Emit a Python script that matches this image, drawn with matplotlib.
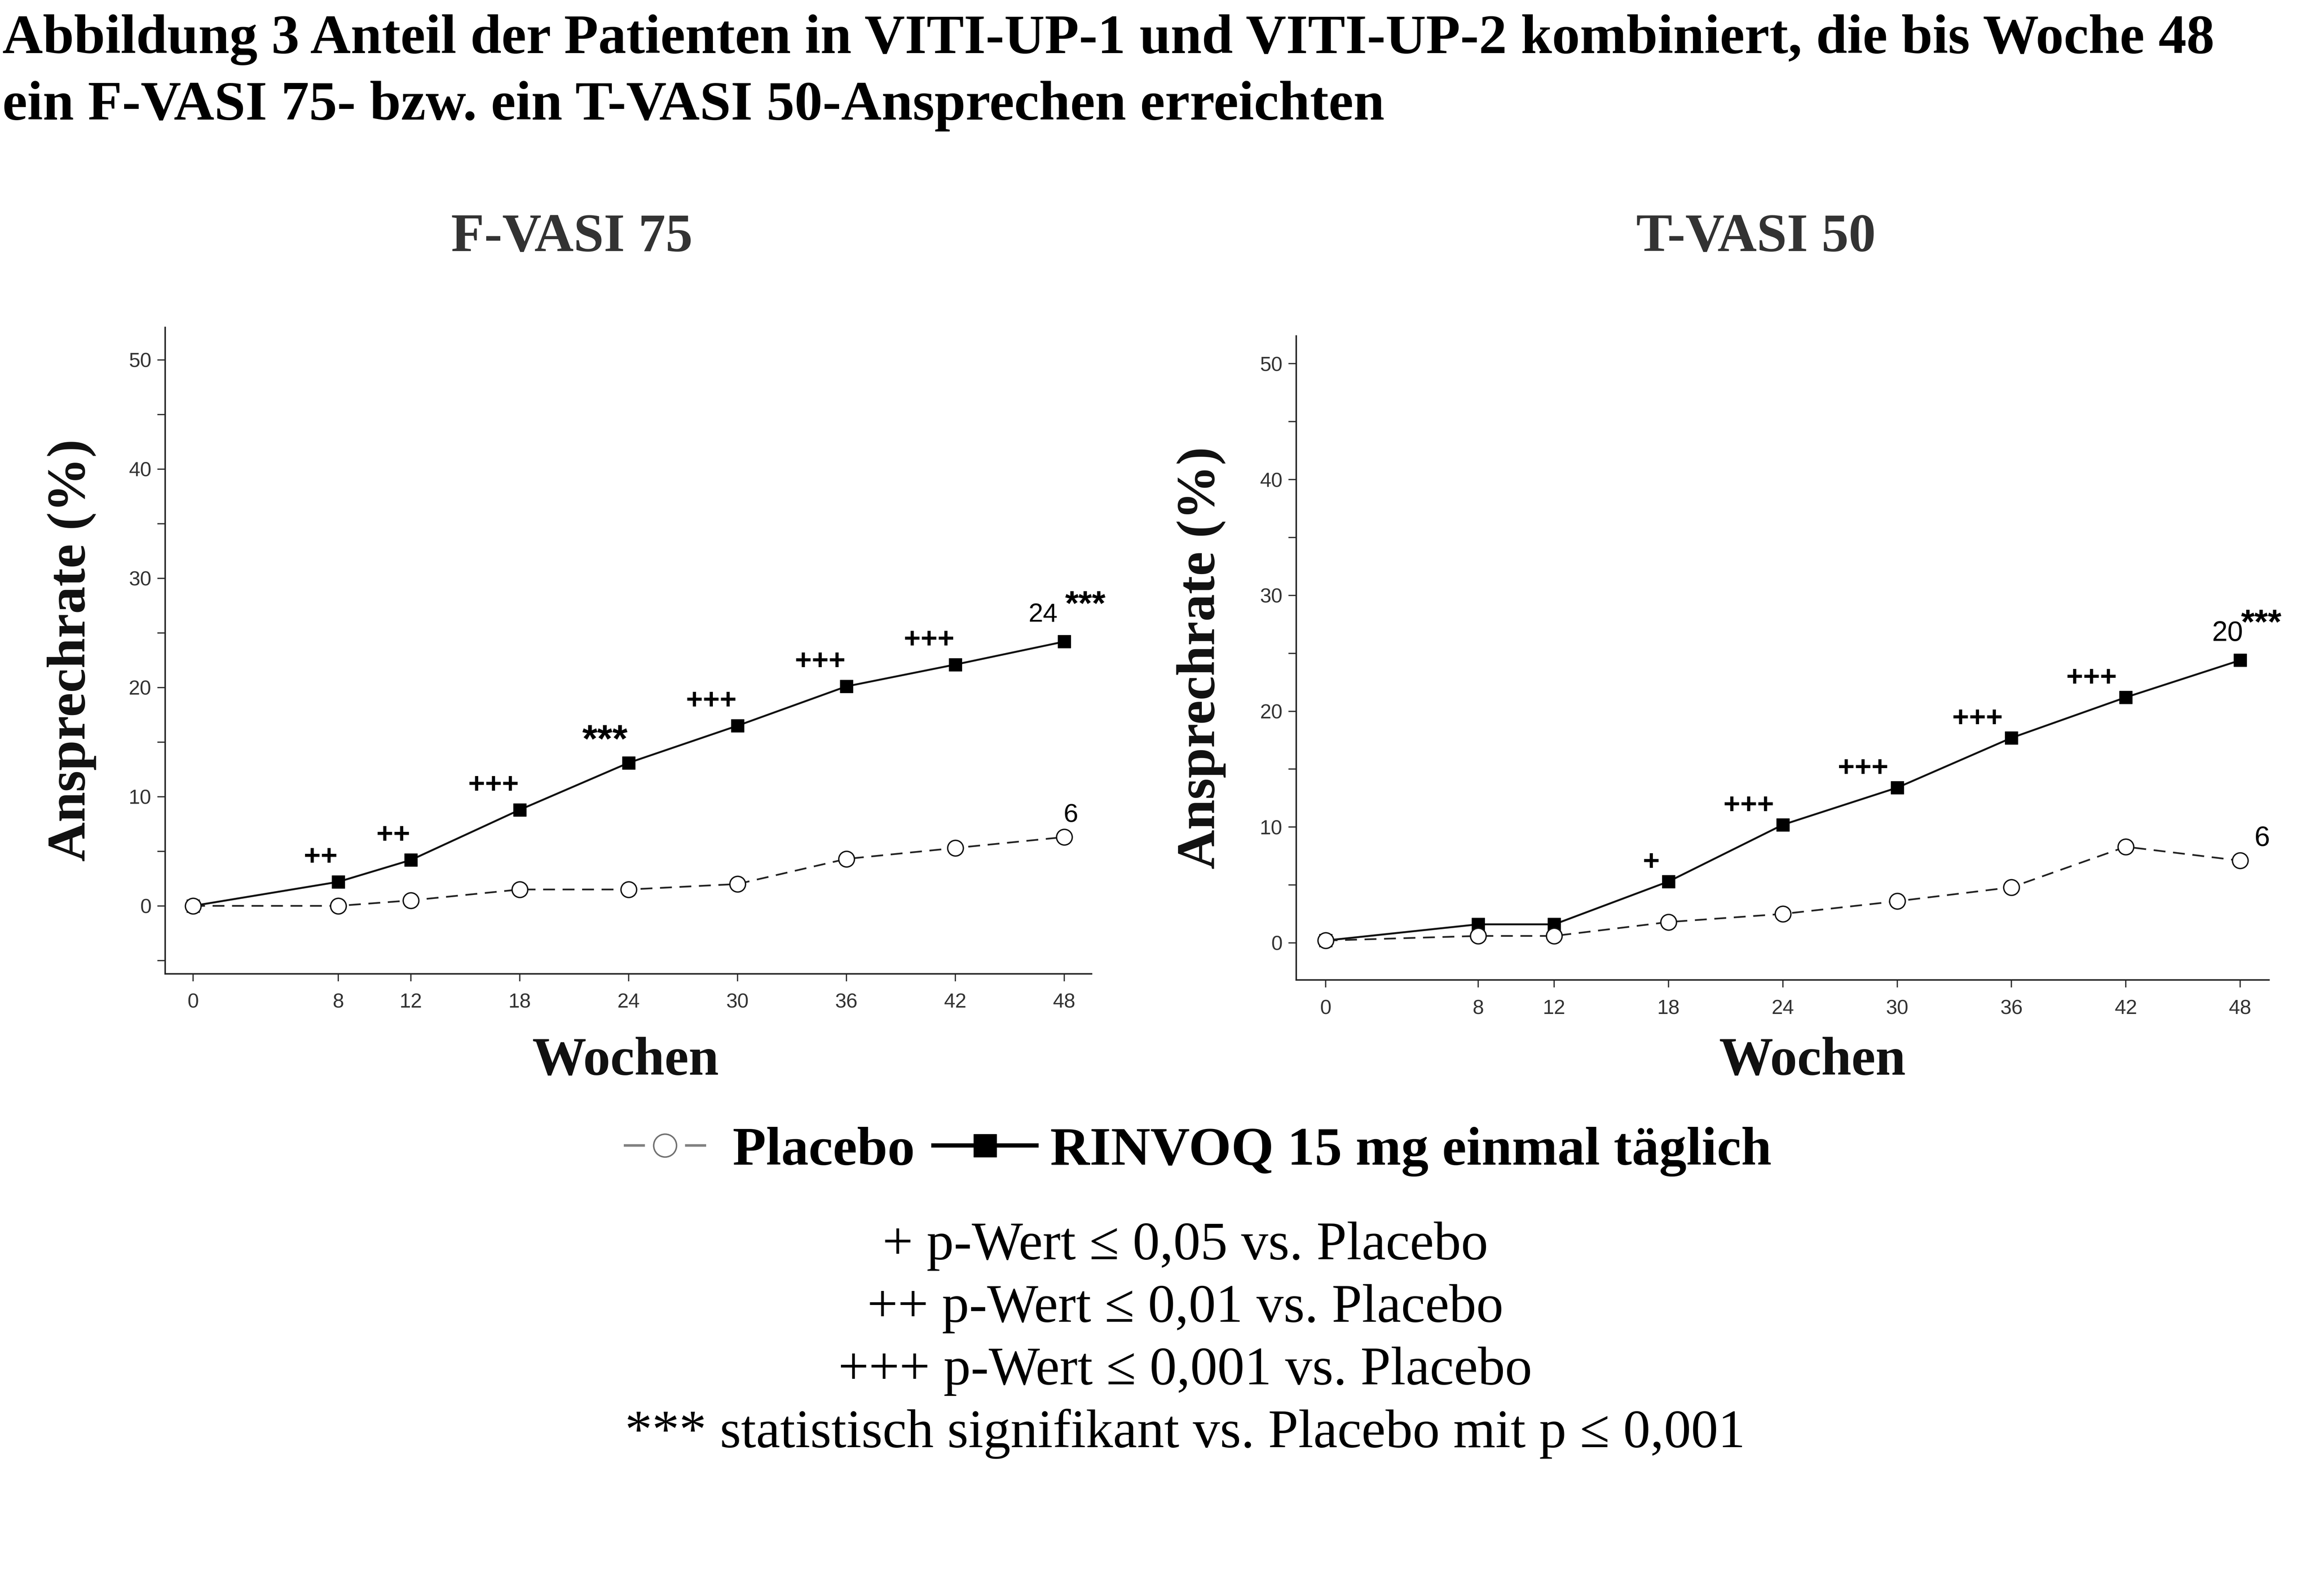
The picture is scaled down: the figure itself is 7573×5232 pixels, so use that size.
import matplotlib
matplotlib.use("Agg")
import matplotlib.pyplot as plt
from matplotlib.lines import Line2D
from matplotlib.ticker import MultipleLocator
from matplotlib.legend_handler import HandlerLine2D

# ---------------- data ----------------
weeks = [0, 8, 12, 18, 24, 30, 36, 42, 48]

fvasi_rinvoq = [0.0, 2.2, 4.2, 8.8, 13.1, 16.5, 20.1, 22.1, 24.2]
fvasi_placebo = [0.0, 0.0, 0.5, 1.5, 1.5, 2.0, 4.3, 5.3, 6.3]
fvasi_sig = ["", "++", "++", "+++", "***", "+++", "+++", "+++", ""]

tvasi_rinvoq = [0.2, 1.6, 1.6, 5.3, 10.2, 13.4, 17.7, 21.2, 24.4]
tvasi_placebo = [0.2, 0.6, 0.6, 1.8, 2.5, 3.6, 4.8, 8.3, 7.1]
tvasi_sig = ["", "", "", "+", "+++", "+++", "+++", "+++", ""]

panel_titles = ["F-VASI 75", "T-VASI 50"]
end_labels_rinvoq = ["24", "20"]
end_labels_placebo = ["6", "6"]
end_stars = "***"

ytick_major = [0, 10, 20, 30, 40, 50]

title_lines = [
    "Abbildung 3 Anteil der Patienten in VITI-UP-1 und VITI-UP-2 kombiniert, die bis Woche 48",
    "ein F-VASI 75- bzw. ein T-VASI 50-Ansprechen erreichten",
]
ylabel = "Ansprechrate (%)"
xlabel = "Wochen"
legend_labels = ["Placebo", "RINVOQ 15 mg einmal täglich"]
footnotes = [
    "+ p-Wert \u2264 0,05 vs. Placebo",
    "++ p-Wert \u2264 0,01 vs. Placebo",
    "+++ p-Wert \u2264 0,001 vs. Placebo",
    "*** statistisch signifikant vs. Placebo mit p \u2264 0,001",
]

# ---------------- style ----------------
SERIF = ["Liberation Serif", "DejaVu Serif"]
SANS = ["Liberation Sans Narrow", "Liberation Sans", "DejaVu Sans"]
SANS_W = ["Liberation Sans", "DejaVu Sans"]

W, H = 7574, 5232
DPI = 100
fig = plt.figure(figsize=(W / DPI, H / DPI), dpi=DPI)
fig.patch.set_facecolor("white")

# title
fig.text(0.001, 1 - 174 / H, title_lines[0], family=SERIF, weight="bold",
         fontsize=132, ha="left", va="baseline", color="black")
fig.text(0.001, 1 - 392 / H, title_lines[1], family=SERIF, weight="bold",
         fontsize=132, ha="left", va="baseline", color="black")

axes_rects = [
    [0.0714, 0.390, 0.401, 0.405],
    [0.561, 0.386, 0.421, 0.4035],
]
ylims = [(-6.2, 53.0), (-3.2, 52.4)]
xlim = (-1.55, 49.5)
panel_rinvoq = [fvasi_rinvoq, tvasi_rinvoq]
panel_placebo = [fvasi_placebo, tvasi_placebo]
panel_sig = [fvasi_sig, tvasi_sig]
sig_dx = [-2, -21]
sig_dy = [58, 45]
title_x = [0.2475, 0.760]
ylabel_x = [0.031, 0.520]
xlabel_x = [0.2708, 0.7845]
placebo_lab_dx = [16, 52]
rinvoq_lab_dx = [-50, -30]
end_fs = [62, 66]

for i in range(2):
    ax = fig.add_axes(axes_rects[i])
    ax.set_xlim(*xlim)
    ax.set_ylim(*ylims[i])
    for s in ["top", "right"]:
        ax.spines[s].set_visible(False)
    for s in ["left", "bottom"]:
        ax.spines[s].set_linewidth(3.5)
        ax.spines[s].set_color("#222222")

    ax.plot(weeks, panel_rinvoq[i], color="#111111", lw=4.5, ls="-",
            marker="s", ms=30, mfc="black", mec="black", zorder=4)
    ax.plot(weeks, panel_placebo[i], color="#222222", lw=4.0, ls=(0, (7, 4.5)),
            marker="o", ms=37, mfc="white", mec="#111111", mew=3.2, zorder=5)

    ax.set_xticks(weeks)
    ax.set_xticklabels([str(w) for w in weeks])
    ax.set_yticks(ytick_major)
    ax.set_yticklabels([str(v) for v in ytick_major])
    ax.yaxis.set_minor_locator(MultipleLocator(5))
    ax.tick_params(axis="both", which="both", length=18, width=3, color="#333333",
                   labelsize=48, labelcolor="#333333", pad=14)
    ax.tick_params(axis="x", which="major", pad=28)
    ax.tick_params(axis="x", which="minor", length=0)
    for lab in ax.get_xticklabels() + ax.get_yticklabels():
        lab.set_family(SANS)

    # significance annotations
    for x, y, s in zip(weeks, panel_rinvoq[i], panel_sig[i]):
        if s:
            star = s.startswith("*")
            ax.annotate(s, (x, y), xytext=(sig_dx[i], sig_dy[i] - (8 if star else 0)),
                        textcoords="offset points", ha="right", va="center",
                        fontsize=92 if star else 68, weight="bold",
                        family=SANS_W, color="black")
    # end labels
    ax.annotate(end_labels_rinvoq[i], (weeks[-1], panel_rinvoq[i][-1]),
                xytext=(rinvoq_lab_dx[i], 63), textcoords="offset points", ha="center",
                va="center", fontsize=end_fs[i], family=SANS_W, color="black")
    ax.annotate(end_stars, (weeks[-1], panel_rinvoq[i][-1]),
                xytext=(50, 84), textcoords="offset points", ha="center",
                va="center", fontsize=82, weight="bold", family=SANS_W, color="black")
    ax.annotate(end_labels_placebo[i], (weeks[-1], panel_placebo[i][-1]),
                xytext=(placebo_lab_dx[i], 52), textcoords="offset points",
                ha="center", va="center", fontsize=end_fs[i], family=SANS_W, color="black")

    # panel title, labels
    fig.text(title_x[i], 1 - 780 / H, panel_titles[i], family=SERIF, weight="bold",
             fontsize=128, ha="center", va="center", color="#333333")
    fig.text(ylabel_x[i], axes_rects[i][1] + axes_rects[i][3] / 2,
             ylabel, family=SERIF, weight="bold", fontsize=129, rotation=90,
             ha="center", va="center", color="#111111")
    fig.text(xlabel_x[i], 1 - 3480 / H, xlabel, family=SERIF, weight="bold",
             fontsize=128, ha="center", va="center", color="#111111")


class SpanHandler(HandlerLine2D):
    """Line handle drawn over the fraction [left, right] of the legend handle box."""

    def __init__(self, left, right, **kw):
        super().__init__(**kw)
        self.left = left
        self.right = right

    def create_artists(self, legend, orig_handle, xdescent, ydescent, width, height,
                       fontsize, trans):
        new_w = width * (self.right - self.left)
        return super().create_artists(legend, orig_handle, xdescent - self.left * width,
                                      ydescent, new_w, height, fontsize, trans)


# legend
h_placebo = Line2D([], [], color="#808080", lw=6, ls=(0, (8.3, 15.8)), marker="o", ms=54,
                   mfc="white", mec="#707070", mew=3.5)
h_rinvoq = Line2D([], [], color="black", lw=10, ls="-", marker="s", ms=54, mfc="black",
                  mec="black")
leg = fig.legend([h_placebo, h_rinvoq], legend_labels, loc="center",
                 bbox_to_anchor=(0.5167, 1 - 3775 / H), ncol=2, frameon=False,
                 handlelength=1.884, handletextpad=0.256, columnspacing=0.34,
                 handler_map={h_placebo: SpanHandler(0.077, 0.88, numpoints=1),
                              h_rinvoq: SpanHandler(0.0, 1.0, numpoints=1)},
                 prop={"family": SERIF, "weight": "bold", "size": 129})

# footnotes
foot_y = [4085, 4290, 4495, 4700]
for txt, yy in zip(footnotes, foot_y):
    fig.text(0.513, 1 - yy / H, txt, family=SERIF, fontsize=128, ha="center",
             va="center", color="black")

fig.savefig("out.png", dpi=DPI, facecolor="white")
